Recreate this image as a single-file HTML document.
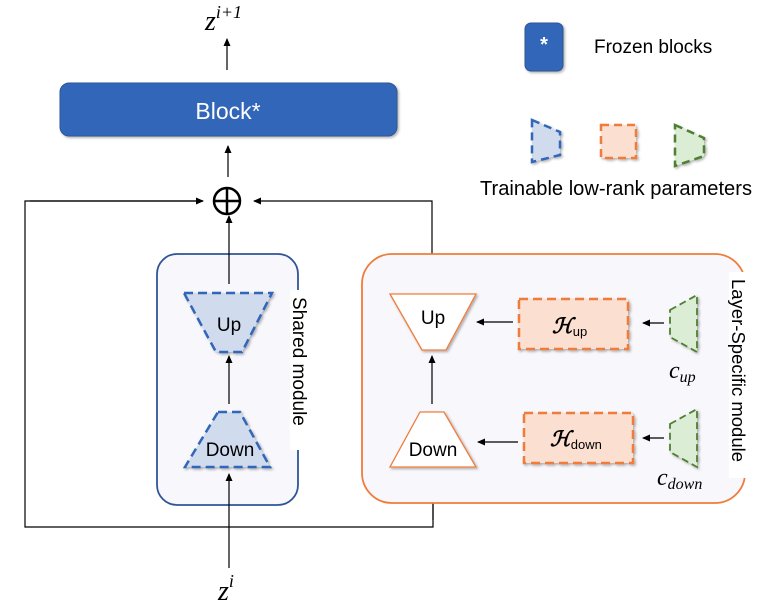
<!DOCTYPE html>
<html><head><meta charset="utf-8"><style>
html,body{margin:0;padding:0;background:#fff;}
svg{display:block;}
text{font-family:"Liberation Sans",sans-serif;}
.m{font-family:"Liberation Serif",serif;font-style:italic;}
</style></head><body>
<svg width="767" height="609" viewBox="0 0 767 609" xmlns="http://www.w3.org/2000/svg">
<defs>
<marker id="a" markerWidth="8" markerHeight="8" refX="7" refY="4" orient="auto" markerUnits="userSpaceOnUse">
<path d="M0,0.5 L8,4 L0,7.5 z" fill="#000"/></marker>
<filter id="sh" x="-10%" y="-10%" width="130%" height="130%"><feDropShadow dx="1.5" dy="1.5" stdDeviation="1.2" flood-color="#000" flood-opacity="0.3"/></filter>
</defs>

<!-- top -->
<text x="205" y="30" class="m" font-size="28">z<tspan font-size="18" dy="-12">i+1</tspan></text>
<line x1="227" y1="70" x2="227" y2="39" stroke="#000" stroke-width="1.2" marker-end="url(#a)"/>
<rect x="60" y="83" width="337" height="53" rx="9" fill="#3366b8" stroke="#2f5597" filter="url(#sh)"/>
<text x="228" y="119" font-size="23" fill="#fff" text-anchor="middle">Block*</text>
<line x1="228" y1="177" x2="228" y2="146" stroke="#000" stroke-width="1.2" marker-end="url(#a)"/>
<circle cx="227" cy="201" r="13" fill="none" stroke="#000" stroke-width="2.5"/>
<line x1="214" y1="201" x2="240" y2="201" stroke="#000" stroke-width="2.5"/>
<line x1="227" y1="188" x2="227" y2="214" stroke="#000" stroke-width="2.5"/>

<!-- loop lines -->
<polyline points="203,201 25,201 25,527 433,527 433,477" fill="none" stroke="#000" stroke-width="1.2"/>
<line x1="30" y1="201" x2="203" y2="201" stroke="#000" stroke-width="1.2" marker-end="url(#a)"/>
<line x1="433" y1="520" x2="433" y2="476" stroke="#000" stroke-width="1.2" marker-end="url(#a)"/>
<polyline points="432,284 432,201 254,201" fill="none" stroke="#000" stroke-width="1.2" marker-end="url(#a)"/>

<!-- shared module -->
<rect x="157" y="254" width="141" height="251" rx="20" fill="#f7f7fc" stroke="#2f5597" stroke-width="1.8"/>
<rect x="290" y="290" width="22" height="160" fill="#fff"/>
<text transform="translate(293,297) rotate(90)" font-size="19" fill="#000">Shared module</text>
<line x1="229" y1="284" x2="229" y2="216" stroke="#000" stroke-width="1.2" marker-end="url(#a)"/>
<polygon points="184,293 272,293 242,352 216,352" fill="#d0dcee" stroke="#3366b8" stroke-width="2.5" stroke-dasharray="9,5" filter="url(#sh)"/>
<text x="229" y="331" font-size="19" text-anchor="middle">Up</text>
<line x1="229" y1="404" x2="229" y2="356" stroke="#000" stroke-width="1.2" marker-end="url(#a)"/>
<polygon points="218,412 240,412 270,467 185,467" fill="#d0dcee" stroke="#3366b8" stroke-width="2.5" stroke-dasharray="9,5" filter="url(#sh)"/>
<text x="230" y="456" font-size="19" text-anchor="middle">Down</text>
<line x1="229" y1="568" x2="229" y2="474" stroke="#000" stroke-width="1.2" marker-end="url(#a)"/>
<text x="218" y="600" class="m" font-size="28">z<tspan font-size="18" dy="-13">i</tspan></text>

<!-- layer-specific module -->
<rect x="362" y="254" width="383" height="249" rx="30" fill="#f7f7fc" stroke="#f07c3a" stroke-width="1.8"/>
<rect x="729" y="272" width="24" height="206" fill="#fff"/>
<text transform="translate(732,279) rotate(90)" font-size="18.5" fill="#000">Layer-Specific module</text>
<polygon points="390,294 476,294 446,350 422,350" fill="#fff" stroke="#f07c3a" stroke-width="1.3" filter="url(#sh)"/>
<text x="433" y="324" font-size="19" text-anchor="middle">Up</text>
<line x1="432" y1="404" x2="432" y2="356" stroke="#000" stroke-width="1.2" marker-end="url(#a)"/>
<polygon points="420,412 444,412 476,467 390,467" fill="#fff" stroke="#f07c3a" stroke-width="1.3" filter="url(#sh)"/>
<text x="433" y="456" font-size="19" text-anchor="middle">Down</text>

<rect x="519" y="299" width="109" height="50" fill="#fbdfd0" stroke="#f07c3a" stroke-width="2.5" stroke-dasharray="9,5" filter="url(#sh)"/>
<text x="552" y="333" class="m" font-size="21" font-weight="bold">ℋ<tspan font-family="Liberation Sans" font-style="normal" font-weight="normal" font-size="13" dy="3">up</tspan></text>
<rect x="524" y="413" width="109" height="50" fill="#fbdfd0" stroke="#f07c3a" stroke-width="2.5" stroke-dasharray="9,5" filter="url(#sh)"/>
<text x="550" y="446" class="m" font-size="21" font-weight="bold">ℋ<tspan font-family="Liberation Sans" font-style="normal" font-weight="normal" font-size="13" dy="3">down</tspan></text>
<line x1="513" y1="322" x2="477" y2="322" stroke="#000" stroke-width="1.2" marker-end="url(#a)"/>
<line x1="518" y1="442" x2="478" y2="442" stroke="#000" stroke-width="1.2" marker-end="url(#a)"/>

<polygon points="670,310 697,295 697,352 670,337" fill="#dcedd5" stroke="#4f7f33" stroke-width="1.8" stroke-dasharray="7,4" filter="url(#sh)"/>
<polygon points="670,424 697,409 697,467 670,452" fill="#dcedd5" stroke="#4f7f33" stroke-width="1.8" stroke-dasharray="7,4" filter="url(#sh)"/>
<line x1="664" y1="323" x2="643" y2="323" stroke="#000" stroke-width="1.2" marker-end="url(#a)"/>
<line x1="664" y1="438" x2="643" y2="438" stroke="#000" stroke-width="1.2" marker-end="url(#a)"/>
<text x="669" y="378" class="m" font-size="24">c<tspan font-size="16" dy="4">up</tspan></text>
<text x="657" y="485" class="m" font-size="24">c<tspan font-size="16" dy="4">down</tspan></text>

<!-- legend -->
<rect x="525" y="23" width="38" height="48" rx="6" fill="#3366b8" stroke="#2f5597" filter="url(#sh)"/>
<text x="544" y="51" font-size="20" font-weight="bold" fill="#fff" text-anchor="middle">*</text>
<text x="594" y="53" font-size="19">Frozen blocks</text>
<polygon points="532,120 560,132 560,155 532,162" fill="#d0dcee" stroke="#3366b8" stroke-width="2.5" stroke-dasharray="8,5" filter="url(#sh)"/>
<rect x="601" y="125" width="35" height="33" fill="#fbdfd0" stroke="#f07c3a" stroke-width="2.5" stroke-dasharray="8,5" filter="url(#sh)"/>
<polygon points="675,125 704,138 704,156 675,166" fill="#dcedd5" stroke="#4f7f33" stroke-width="2.5" stroke-dasharray="8,5" filter="url(#sh)"/>
<text x="480" y="195" font-size="20" textLength="272" lengthAdjust="spacingAndGlyphs">Trainable low-rank parameters</text>
</svg>
</body></html>
